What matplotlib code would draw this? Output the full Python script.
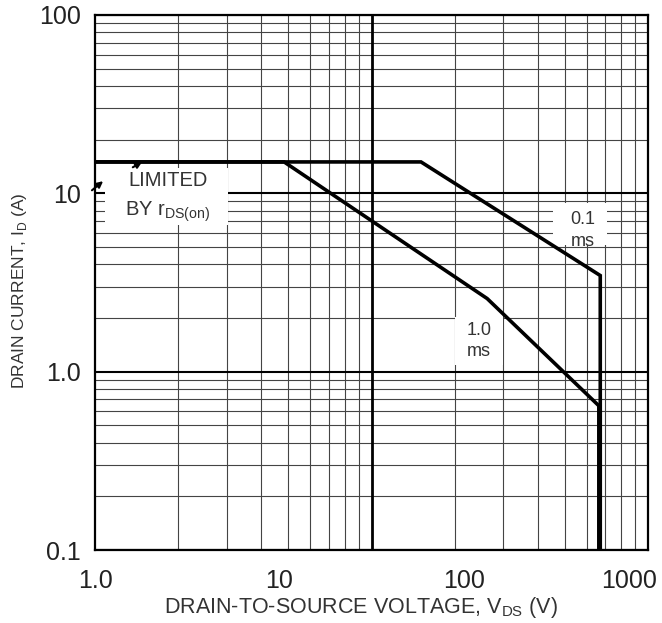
import numpy as np
import matplotlib
matplotlib.use('Agg')
import matplotlib.pyplot as plt
from matplotlib.patches import Rectangle
from matplotlib.ticker import FixedLocator, LogLocator, NullFormatter

plt.rcParams['font.family'] = ['Liberation Sans', 'DejaVu Sans']
plt.rcParams['mathtext.fontset'] = 'custom'
plt.rcParams['mathtext.rm'] = 'Liberation Sans'

# Safe operating area curves (V on the chart grid, A)
v_01ms = [1, 15.1, 67.2, 67.2]
i_01ms = [15, 15, 3.46, 0.1]
v_1ms = [1, 4.83, 26.2, 66.4, 66.4]
i_1ms = [15, 15, 2.57, 0.644, 0.1]

# tick labels as printed (the grid is 2 decades, labels claim 3)
x_tick_pos = [1, 10 ** (2 / 3), 10 ** (4 / 3), 10 ** 1.93]
x_tick_labels = ['1.0', '10', '100', '1000']
y_tick_pos = [0.1, 1, 10, 100]
y_tick_labels = ['0.1', '1.0', '10', '100']

fig = plt.figure(figsize=(6.62, 6.23), dpi=100)
ax = fig.add_axes([95 / 662, 1 - 550 / 623, (648 - 95) / 662, (550 - 15) / 623])
ax.set_xscale('log')
ax.set_yscale('log')
ax.set_xlim(1, 100)
ax.set_ylim(0.1, 100)

# grid
ax.xaxis.set_major_locator(FixedLocator(x_tick_pos))
ax.set_xticklabels(x_tick_labels)
ax.xaxis.set_minor_locator(LogLocator(base=10, subs=np.arange(2, 10)))
ax.xaxis.set_minor_formatter(NullFormatter())
ax.set_yticks(y_tick_pos, y_tick_labels)
ax.yaxis.set_minor_locator(LogLocator(base=10, subs=np.arange(2, 10)))
ax.yaxis.set_minor_formatter(NullFormatter())
ax.grid(which='minor', color='#444444', linewidth=0.8)
ax.grid(which='major', axis='y', color='black', linewidth=1.5)
ax.axvline(10, color='black', linewidth=2, zorder=1)
ax.set_axisbelow(True)

ax.tick_params(which='both', length=0)
ax.tick_params(axis='x', pad=14, labelsize=18, colors='#222222')
ax.tick_params(axis='y', pad=10, labelsize=18, colors='#222222')
for s in ax.spines.values():
    s.set_linewidth(1.6)
    s.set_color('black')

# curves
ax.plot(v_01ms, i_01ms, color='black', linewidth=2.6, zorder=5, solid_joinstyle='miter')
ax.plot(v_1ms, i_1ms, color='black', linewidth=2.6, zorder=5, solid_joinstyle='miter')

# white label boxes over the grid (axes fraction)
for bx, by, bw, bh in [(0.018, 0.6075, 0.2225, 0.1065),
                       (0.828, 0.570, 0.098, 0.0786),
                       (0.651, 0.3458, 0.087, 0.0897)]:
    ax.add_patch(Rectangle((bx, by), bw, bh, transform=ax.transAxes,
                           facecolor='white', edgecolor='none', zorder=2))

ax.text(1.83, 9.5, 'LIMITED\nBY r$_{\\mathregular{DS(on)}}$', ha='center', va='center',
        fontsize=14.5, color='#333333', linespacing=1.6, zorder=3)
ax.text(58, 6.2, '0.1\nms', ha='center', va='center', fontsize=13, color='#333333',
        linespacing=1.35, zorder=3)
ax.text(24.5, 1.49, '1.0\nms', ha='center', va='center', fontsize=13, color='#333333',
        linespacing=1.35, zorder=3)

# small leader arrowheads
arrow = dict(arrowstyle='-|>', color='black', lw=1.5, mutation_scale=9, shrinkA=0, shrinkB=0)
ax.annotate('', xy=(1.48, 15), xytext=(1.37, 14.0), arrowprops=arrow, zorder=6)
ax.annotate('', xy=(1.07, 11.7), xytext=(0.975, 10.4), annotation_clip=False,
            arrowprops=arrow, zorder=6)

fig.text(361 / 662, 1 - 607 / 623, 'DRAIN-TO-SOURCE VOLTAGE, V$_{\\mathregular{DS}}$ (V)',
         ha='center', va='center', fontsize=15.5, color='#333333')
fig.text(20 / 662, 1 - 291 / 623, 'DRAIN CURRENT, I$_{\\mathregular{D}}$ (A)',
         ha='center', va='center', rotation=90, fontsize=12.5, color='#333333')

fig.savefig('out.png', dpi=100)
